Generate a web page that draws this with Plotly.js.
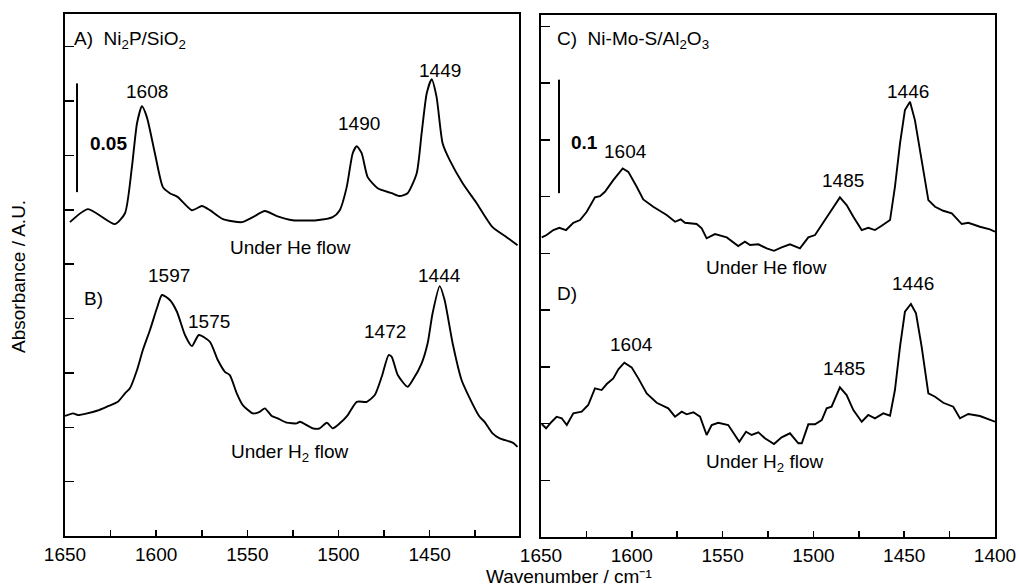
<!DOCTYPE html>
<html>
<head>
<meta charset="utf-8">
<script src="https://cdn.plot.ly/plotly-3.0.1.min.js"></script>
<style>html,body{margin:0;padding:0;background:#fff;}#chart{width:1019px;height:588px;}</style>
</head>
<body>
<div id="chart"></div>
<script>
// ---- Data (wavenumber / cm-1 and absorbance, offset spectra) ----
const wnA = [1647.3,1637.4,1622.6,1617.1,1613.3,1610.5,1607.8,1605.1,1600.7,1596.3,1592.5,1588.1,1580.4,1574.9,1570.5,1563.4,1553.0,1547.0,1540.4,1533.8,1525.1,1511.9,1503.2,1499.3,1495.5,1492.2,1490.0,1487.3,1484.0,1478.5,1470.8,1466.4,1462.1,1457.1,1454.4,1451.6,1448.9,1446.2,1442.9,1439.0,1431.9,1424.2,1415.5,1407.8,1401.8];
const absA = [0.1443,0.1503,0.1434,0.1484,0.1696,0.1898,0.1976,0.1926,0.1760,0.1604,0.1576,0.1558,0.1498,0.1517,0.1498,0.1457,0.1443,0.1466,0.1494,0.1471,0.1452,0.1452,0.1466,0.1498,0.1604,0.1760,0.1792,0.1760,0.1650,0.1599,0.1576,0.1563,0.1576,0.1668,0.1852,0.2036,0.2100,0.2018,0.1806,0.1728,0.1622,0.1530,0.1420,0.1374,0.1337];

const wnB = [1650.0,1645.6,1642.9,1632.5,1626.4,1621.0,1617.1,1614.4,1610.5,1607.3,1603.4,1599.6,1596.8,1592.5,1588.6,1584.2,1580.4,1576.6,1570.5,1566.2,1562.3,1559.6,1555.8,1552.5,1547.0,1543.2,1540.4,1536.6,1533.3,1528.4,1522.9,1521.2,1514.1,1510.3,1506.4,1503.2,1499.3,1494.9,1490.0,1484.5,1480.1,1476.3,1472.5,1470.8,1467.5,1462.1,1459.3,1454.4,1451.1,1448.4,1444.5,1441.8,1437.4,1432.5,1429.7,1422.6,1419.9,1415.5,1411.6,1404.5,1401.8];
const absB = [0.0552,0.0564,0.0556,0.0576,0.0597,0.0617,0.0656,0.0679,0.0763,0.0855,0.0947,0.1047,0.1108,0.1085,0.1031,0.0924,0.0873,0.0924,0.0893,0.0809,0.0755,0.0740,0.0656,0.0602,0.0564,0.0571,0.0587,0.0552,0.0541,0.0521,0.0518,0.0525,0.0495,0.0495,0.0521,0.0495,0.0518,0.0556,0.0617,0.0617,0.0648,0.0732,0.0832,0.0824,0.0740,0.0686,0.0717,0.0794,0.0886,0.1024,0.1149,0.1085,0.0886,0.0717,0.0663,0.0548,0.0525,0.0472,0.0449,0.0429,0.0410];

const wnC = [1649.6,1646.9,1643.2,1639.9,1636.2,1632.2,1628.5,1624.8,1620.3,1617.5,1614.8,1610.2,1605.0,1601.9,1597.3,1593.7,1588.2,1580.8,1576.2,1573.1,1570.7,1564.3,1561.5,1558.8,1554.2,1547.7,1541.4,1537.7,1534.9,1530.3,1525.7,1521.7,1517.5,1512.9,1507.4,1502.8,1499.1,1494.5,1490.0,1485.4,1481.7,1478.0,1473.4,1469.8,1466.1,1462.4,1457.8,1455.1,1452.3,1449.6,1446.8,1444.1,1440.4,1436.7,1433.0,1428.5,1423.8,1418.3,1414.7,1408.3,1402.8,1400.0];
const absC = [0.2640,0.2661,0.2705,0.2725,0.2705,0.2769,0.2793,0.2866,0.2993,0.3004,0.3042,0.3145,0.3248,0.3218,0.3086,0.2975,0.2910,0.2837,0.2778,0.2799,0.2769,0.2758,0.2720,0.2632,0.2669,0.2640,0.2564,0.2602,0.2573,0.2579,0.2543,0.2522,0.2552,0.2579,0.2543,0.2640,0.2661,0.2778,0.2881,0.2993,0.2925,0.2822,0.2705,0.2725,0.2705,0.2743,0.2793,0.3086,0.3468,0.3762,0.3835,0.3674,0.3321,0.2969,0.2910,0.2875,0.2852,0.2758,0.2769,0.2734,0.2711,0.2690];

const wnD = [1649.6,1647.2,1644.1,1641.4,1638.6,1635.8,1632.2,1627.6,1624.0,1620.3,1616.6,1613.8,1610.2,1607.4,1604.1,1600.1,1596.4,1591.8,1586.3,1579.9,1576.2,1572.5,1569.8,1566.1,1562.4,1558.8,1556.0,1552.4,1546.9,1540.8,1537.1,1534.0,1530.3,1526.7,1521.7,1517.5,1512.9,1508.3,1506.4,1502.8,1499.1,1495.4,1492.7,1490.0,1485.4,1481.7,1478.0,1473.4,1469.8,1466.1,1461.5,1457.8,1455.1,1452.3,1449.6,1446.3,1443.5,1440.4,1436.7,1433.0,1428.5,1423.0,1419.3,1414.7,1408.3,1402.8,1400.0];
const absD = [0.0996,0.0958,0.1016,0.1060,0.1046,0.0987,0.1090,0.1104,0.1163,0.1310,0.1295,0.1348,0.1398,0.1477,0.1536,0.1495,0.1398,0.1266,0.1183,0.1134,0.1060,0.1104,0.1081,0.1099,0.1060,0.0899,0.0987,0.1007,0.0987,0.0840,0.0928,0.0899,0.0922,0.0870,0.0819,0.0878,0.0914,0.0826,0.0826,0.0993,0.0993,0.1031,0.1134,0.1148,0.1319,0.1251,0.1119,0.1016,0.1075,0.1046,0.1090,0.1069,0.1295,0.1677,0.1985,0.2053,0.1971,0.1677,0.1266,0.1236,0.1183,0.1148,0.1046,0.1084,0.1066,0.1037,0.1016];

// Peak / panel labels (text, x in cm-1, y in absorbance, panel)
const labelText  = ['1608','1490','1449','1597','1575','1472','1444','Under He flow','Under H<sub>2</sub> flow',
                    '1604','1485','1446','1604','1485','1446','Under He flow','Under H<sub>2</sub> flow'];
const labelX     = [1604.8,1488.9,1444.5,1593.0,1571.1,1474.7,1444.5,1526.2,1526.7,
                    1603.2,1483.7,1447.9,1600.4,1483.1,1445.2,1526.1,1526.7];
const labelY     = [0.2045,0.1898,0.2142,0.1200,0.0988,0.0938,0.1200,0.1328,0.0381,
                    0.3401,0.3145,0.3929,0.1700,0.1489,0.2238,0.2379,0.0652];
const labelPanel = [1,1,1,1,1,1,1,1,1,2,2,2,2,2,2,2,2];

const panelTitles = ['A)&nbsp;&nbsp;Ni<sub>2</sub>P/SiO<sub>2</sub>','B)','C)&nbsp;&nbsp;Ni-Mo-S/Al<sub>2</sub>O<sub>3</sub>','D)'];
const panelTitleX = [1646.2,1640.7,1642.3,1642.3];
const panelTitleY = [0.2280,0.1094,0.4379,0.2150];
const panelTitlePanel = [1,1,2,2];

const scaleBarText = ['0.05','0.1'];
const scaleBarSize = [0.05,0.1];

// ---- Traces ----
const lineStyle = {color:'black', width:1.9};
const traces = [
  {x:wnA, y:absA, xaxis:'x', yaxis:'y', mode:'lines', line:Object.assign({shape:'spline', smoothing:0.6}, lineStyle)},
  {x:wnB, y:absB, xaxis:'x', yaxis:'y', mode:'lines', line:Object.assign({shape:'spline', smoothing:0.6}, lineStyle)},
  {x:wnC, y:absC, xaxis:'x2', yaxis:'y2', mode:'lines', line:Object.assign({shape:'linear'}, lineStyle)},
  {x:wnD, y:absD, xaxis:'x2', yaxis:'y2', mode:'lines', line:Object.assign({shape:'linear'}, lineStyle)}
];

const annotations = [];
labelText.forEach((t,i)=>{
  const p = labelPanel[i];
  annotations.push({text:t, x:labelX[i], y:labelY[i], xref:p===1?'x':'x2', yref:p===1?'y':'y2',
    showarrow:false, xanchor:'center', yanchor:'middle'});
});
panelTitles.forEach((t,i)=>{
  const p = panelTitlePanel[i];
  annotations.push({text:t, x:panelTitleX[i], y:panelTitleY[i], xref:p===1?'x':'x2', yref:p===1?'y':'y2',
    showarrow:false, xanchor:'left', yanchor:'middle'});
});
// scale bar labels
annotations.push({text:'<b>'+scaleBarText[0]+'</b>', x:1625.9, y:0.1806, xref:'x', yref:'y', showarrow:false, xanchor:'center', yanchor:'middle'});
annotations.push({text:'<b>'+scaleBarText[1]+'</b>', x:1626.0, y:0.3480, xref:'x2', yref:'y2', showarrow:false, xanchor:'center', yanchor:'middle'});
// axis titles
annotations.push({text:'Absorbance / A.U.', x:18/1019, y:(588-277)/588, xref:'paper', yref:'paper', textangle:-90,
  showarrow:false, xanchor:'center', yanchor:'middle'});
annotations.push({text:'Wavenumber / cm\u207B\u00B9', x:569/1019, y:0, xref:'paper', yref:'paper',
  showarrow:false, xanchor:'center', yanchor:'bottom', borderpad:0});

const shapes = [
  {type:'line', xref:'x', yref:'y', x0:1643.4, x1:1643.4, y0:0.1581, y1:0.1581+scaleBarSize[0], line:{color:'black', width:2}},
  {type:'line', xref:'x2', yref:'y2', x0:1640.1, x1:1640.1, y0:0.303, y1:0.303+scaleBarSize[1], line:{color:'black', width:2}}
];

const xBase = {tick0:1650, dtick:50, ticks:'inside', ticklen:6, tickwidth:1.5, tickcolor:'black',
  minor:{tick0:1650, dtick:25, ticks:'inside', ticklen:6, tickwidth:1.5, tickcolor:'black', showgrid:false},
  showline:true, mirror:true, linewidth:2, linecolor:'black', showgrid:false, zeroline:false, ticklabelstandoff:0};
const yBase = {tick0:0, ticks:'inside', ticklen:9, tickwidth:1.5, tickcolor:'black', showticklabels:false,
  showline:true, mirror:true, linewidth:2, linecolor:'black', showgrid:false, zeroline:false};

const layout = {
  width:1019, height:588, margin:{l:0,r:0,t:0,b:0}, showlegend:false,
  paper_bgcolor:'white', plot_bgcolor:'white',
  font:{family:'Liberation Sans, Arial, sans-serif', size:19, color:'black'},
  xaxis:Object.assign({}, xBase, {domain:[65/1019,519/1019], range:[1650,1401], anchor:'y'}),
  yaxis:Object.assign({}, yBase, {domain:[52/588,574/588], range:[0,0.24], dtick:0.025, anchor:'x'}),
  xaxis2:Object.assign({}, xBase, {domain:[541/1019,995/1019], range:[1650,1400], anchor:'y2'}),
  yaxis2:Object.assign({}, yBase, {domain:[51/588,573/588], range:[0,0.46], dtick:0.05, anchor:'x2'}),
  annotations:annotations, shapes:shapes
};

Plotly.newPlot('chart', traces, layout, {displayModeBar:false, staticPlot:true});
</script>
</body>
</html>
